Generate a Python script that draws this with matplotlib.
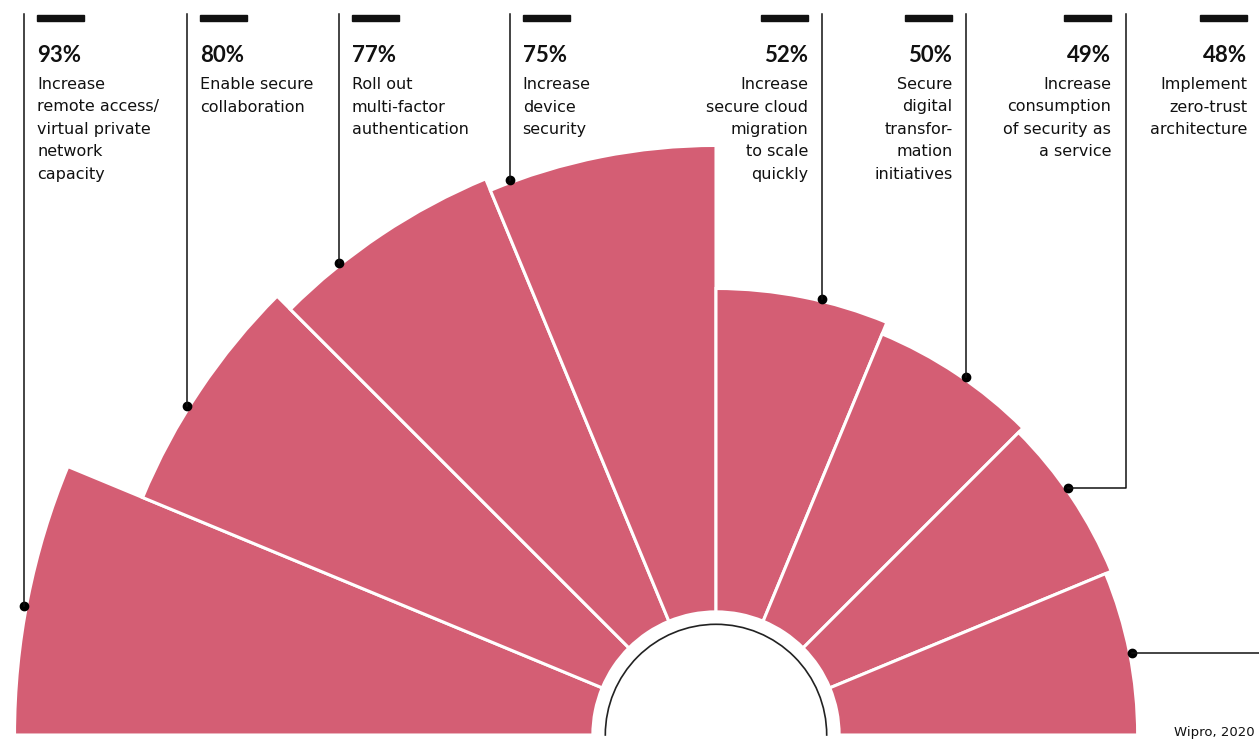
import numpy as np
import matplotlib
matplotlib.use("Agg")
import matplotlib.pyplot as plt
from matplotlib.lines import Line2D
from matplotlib.patches import Rectangle

# data
values = [93, 80, 77, 75, 52, 50, 49, 48]
pct_labels = ["93%", "80%", "77%", "75%", "52%", "50%", "49%", "48%"]
descriptions = [
    "Increase\nremote access/\nvirtual private\nnetwork\ncapacity",
    "Enable secure\ncollaboration",
    "Roll out\nmulti-factor\nauthentication",
    "Increase\ndevice\nsecurity",
    "Increase\nsecure cloud\nmigration\nto scale\nquickly",
    "Secure\ndigital\ntransfor-\nmation\ninitiatives",
    "Increase\nconsumption\nof security as\na service",
    "Implement\nzero-trust\narchitecture",
]
source = "Wipro, 2020"

# where the leader line touches each bar (degrees)
dot_angles = [169.4, 148.1, 128.6, 110.4, 76.3, 55.0, 35.1, 11.2]

PINK = "#d45e74"
INK = "#111111"
W, H = 1259, 740

fig = plt.figure(figsize=(W / 100, H / 100), dpi=100)


def fx(x):
    return x / W


def fy(y):
    return 1 - y / H


# polar half-rose; origin sits at pixel (716, 735)
ax = fig.add_axes([-29 / W, -367.5 / H, 1490 / W, 1490 / H], projection="polar")
ax.set_thetamin(0)
ax.set_thetamax(180)
ax.set_ylim(-2, 100)
ax.set_rorigin(-19.8)

n = len(values)
step = np.radians(180 / n)
theta = np.pi - step * (np.arange(n) + 0.5)
ax.bar(theta, values, width=step, bottom=0, color=PINK,
       edgecolor="white", linewidth=2.2, align="center")

ax.grid(False)
ax.set_xticks([])
ax.set_yticks([])
ax.patch.set_alpha(0)
# polar axes switch start/end on again when drawing, so blank them instead
for s in ["polar", "start", "end"]:
    ax.spines[s].set_color("none")
ax.spines["inner"].set_color("#222222")
ax.spines["inner"].set_linewidth(1.2)

ax.plot(np.radians(dot_angles), np.array(values) + 0.4, "o", color="black",
        ms=6, clip_on=False, zorder=5)

ax.apply_aspect()

top = 14
bar_len = 47
desc_font = dict(fontsize=11.5, family="DejaVu Sans", color=INK)
for i in range(n):
    px, py = ax.transData.transform((np.radians(dot_angles[i]), values[i] + 0.4))
    py = H - py
    left_side = i < 4
    if i == 7:
        # horizontal leader to the right edge
        fig.add_artist(Line2D([fx(px), fx(W)], [fy(py), fy(py)], color=INK,
                              lw=1.1, transform=fig.transFigure))
        tx = 1247
    elif i == 6:
        lx = px + 58
        fig.add_artist(Line2D([fx(px), fx(lx), fx(lx)], [fy(py), fy(py), fy(top)],
                              color=INK, lw=1.1, transform=fig.transFigure))
        tx = lx - 15
    else:
        fig.add_artist(Line2D([fx(px), fx(px)], [fy(py), fy(top)], color=INK,
                              lw=1.1, transform=fig.transFigure))
        tx = px + 13 if left_side else px - 14

    ha = "left" if left_side else "right"
    bx = tx if left_side else tx - bar_len
    fig.add_artist(Rectangle((fx(bx), fy(21)), bar_len / W, 6 / H,
                             color=INK, transform=fig.transFigure))
    fig.text(fx(tx), fy(62), pct_labels[i], ha=ha, va="baseline",
             fontsize=16, fontweight="bold", family="Lato", color=INK)
    for j, line in enumerate(descriptions[i].split("\n")):
        fig.text(fx(tx), fy(89 + 22.5 * j), line, ha=ha, va="baseline",
                 **desc_font)

fig.text(fx(1255), fy(736), source, ha="right", va="baseline",
         fontsize=9.5, family="DejaVu Sans", color=INK)

fig.savefig("out.png", dpi=100)
